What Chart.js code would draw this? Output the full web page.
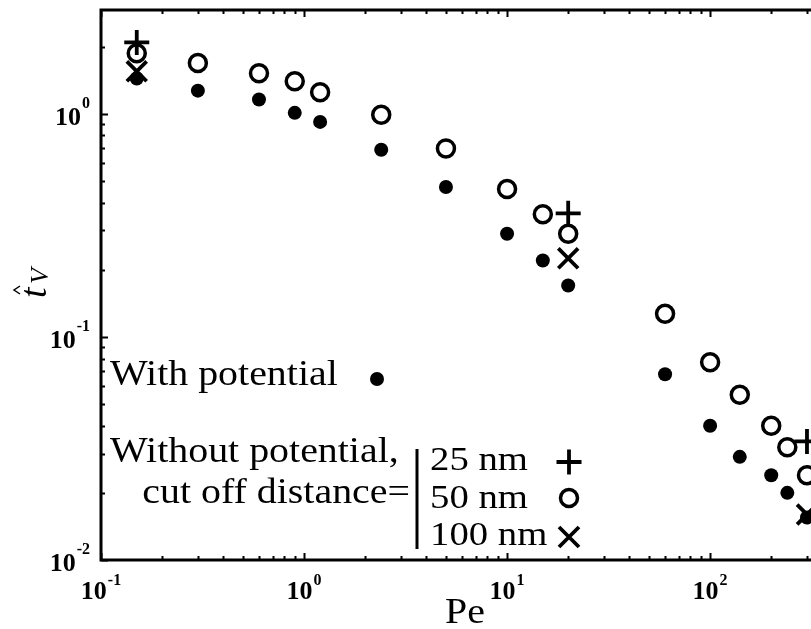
<!DOCTYPE html>
<html>
<head>
<meta charset="utf-8">
<script src="https://cdn.jsdelivr.net/npm/chart.js@4/dist/chart.umd.min.js"></script>
<style>
  html, body { margin: 0; padding: 0; background: #fff; overflow: hidden; }
  #wrap { width: 811px; height: 629px; }
</style>
</head>
<body>
<div id="wrap"><canvas id="chart"></canvas></div>
<script>
// Pe values shared by the two full series
const pe = [0.15, 0.3, 0.6, 0.9, 1.2, 2.4, 5, 10, 15, 20, 60, 100, 140, 200, 240, 300];
const withPotential = [1.44, 1.27, 1.16, 1.01, 0.92, 0.69, 0.47, 0.29, 0.22, 0.17, 0.068, 0.040, 0.029, 0.024, 0.020, 0.0155];
const cut50 = [1.87, 1.69, 1.52, 1.40, 1.25, 0.99, 0.70, 0.46, 0.355, 0.29, 0.127, 0.077, 0.055, 0.040, 0.032, 0.024];
// only three Pe values for the other cut off distances
const peShort = [0.15, 20, 300];
const cut25 = [2.09, 0.358, 0.034];
const cut100 = [1.55, 0.225, 0.016];

const xTickExps = [-1, 0, 1, 2];
const yTickExps = [-2, -1, 0];
const xTitle = 'Pe';
const withLabel = 'With potential';
const withoutLabel = ['Without potential,', 'cut off distance='];
const cutLabels = ['25 nm', '50 nm', '100 nm'];

const SERIF = '"Liberation Serif", "DejaVu Serif", serif';
const STRETCH = 1.14;

function pts(xs, ys) {
  return xs.map((x, i) => ({ x: x, y: ys[i] }));
}

function txt(ctx, s, x, y, size, align, style) {
  ctx.save();
  ctx.font = (style || '') + ' ' + size + 'px ' + SERIF;
  ctx.translate(x, y);
  ctx.scale(STRETCH, 1);
  ctx.textAlign = align || 'left';
  ctx.textBaseline = 'alphabetic';
  ctx.fillStyle = '#000';
  ctx.fillText(s, 0, 0);
  ctx.restore();
}

// 10 with a superscript exponent; anchor = 'center' or 'right'
function pow10(ctx, exp, x, y, anchor, raise) {
  ctx.save();
  ctx.fillStyle = '#000';
  ctx.textBaseline = 'alphabetic';
  ctx.textAlign = 'left';
  ctx.font = 'bold 26px ' + SERIF;
  const wb = ctx.measureText('10').width;
  ctx.font = 'bold 16px ' + SERIF;
  const es = String(exp);
  const we = ctx.measureText(es).width;
  const total = wb + 1 + we;
  const x0 = anchor === 'right' ? x - total : x - total / 2;
  ctx.font = 'bold 26px ' + SERIF;
  ctx.fillText('10', x0, y);
  ctx.font = 'bold 16px ' + SERIF;
  ctx.fillText(es, x0 + wb + 1, y - raise);
  ctx.restore();
}

function marker(ctx, style, x, y) {
  ctx.save();
  ctx.strokeStyle = '#000';
  ctx.fillStyle = '#000';
  ctx.lineWidth = 3.8;
  ctx.beginPath();
  if (style === 'dot') {
    ctx.arc(x, y, 7, 0, Math.PI * 2);
    ctx.fill();
  } else if (style === 'circle') {
    ctx.lineWidth = 3.5;
    ctx.arc(x, y, 8.5, 0, Math.PI * 2);
    ctx.stroke();
  } else if (style === 'cross') {
    ctx.moveTo(x - 12.5, y); ctx.lineTo(x + 12.5, y);
    ctx.moveTo(x, y - 12.5); ctx.lineTo(x, y + 12.5);
    ctx.stroke();
  } else {
    const d = 10;
    ctx.moveTo(x - d, y - d); ctx.lineTo(x + d, y + d);
    ctx.moveTo(x + d, y - d); ctx.lineTo(x - d, y + d);
    ctx.stroke();
  }
  ctx.restore();
}

const frame = {
  id: 'frame',
  afterDraw(chart) {
    const ctx = chart.ctx;
    const a = chart.chartArea;
    const xs = chart.scales.x, ys = chart.scales.y;

    ctx.save();
    ctx.strokeStyle = '#000';
    // ticks, pointing inward
    ctx.lineWidth = 2;
    ctx.beginPath();
    for (let d = -1; d <= 2; d++) {
      for (let m = 1; m <= 9; m++) {
        const v = m * Math.pow(10, d);
        if (v < xs.min || v > xs.max) continue;
        const px = Math.round(xs.getPixelForValue(v)) + 0.5;
        const len = m === 1 ? 7 : 4;
        ctx.moveTo(px, a.bottom); ctx.lineTo(px, a.bottom - len);
        ctx.moveTo(px, a.top); ctx.lineTo(px, a.top + len);
      }
    }
    for (let d = -2; d <= 0; d++) {
      for (let m = 1; m <= 9; m++) {
        const v = m * Math.pow(10, d);
        if (v < ys.min || v > ys.max) continue;
        const py = Math.round(ys.getPixelForValue(v)) + 0.5;
        const len = m === 1 ? 7 : 4;
        ctx.moveTo(a.left, py); ctx.lineTo(a.left + len, py);
      }
    }
    ctx.stroke();

    // spines (right one falls outside the picture)
    ctx.lineWidth = 3;
    ctx.beginPath();
    ctx.moveTo(a.right + 5, a.top);
    ctx.lineTo(a.left, a.top);
    ctx.lineTo(a.left, a.bottom);
    ctx.lineTo(a.right + 5, a.bottom);
    ctx.stroke();
    ctx.restore();

    // tick labels
    xTickExps.forEach(e => pow10(ctx, e, xs.getPixelForValue(Math.pow(10, e)), a.bottom + 39, 'center', 14));
    yTickExps.forEach(e => pow10(ctx, e, a.left - 11, ys.getPixelForValue(Math.pow(10, e)) + 11, 'right', 17));

    // axis titles
    txt(ctx, xTitle, 465, 623, 35, 'center');
    ctx.save();
    ctx.translate(46, 298);
    ctx.rotate(-Math.PI / 2);
    ctx.fillStyle = '#000';
    ctx.font = 'italic 38px ' + SERIF;
    ctx.fillText('t', 0, 0);
    ctx.font = 'italic 26px ' + SERIF;
    ctx.fillText('V', 14, 2);
    ctx.strokeStyle = '#000';
    ctx.lineWidth = 1.5;
    ctx.beginPath();
    ctx.moveTo(4, -26); ctx.lineTo(8, -32); ctx.lineTo(12, -26);
    ctx.stroke();
    ctx.restore();

    // in-plot key
    txt(ctx, withLabel, 110, 385, 35, 'left');
    marker(ctx, 'dot', 377, 379);
    txt(ctx, withoutLabel[0], 110, 462, 35, 'left');
    txt(ctx, withoutLabel[1], 410, 503, 35, 'right');
    ctx.save();
    ctx.strokeStyle = '#000';
    ctx.lineWidth = 3;
    ctx.beginPath();
    ctx.moveTo(417, 449); ctx.lineTo(417, 549);
    ctx.stroke();
    ctx.restore();
    const rows = [470, 508, 545];
    const rowMarks = ['cross', 'circle', 'crossRot'];
    const markY = [462, 498, 537];
    cutLabels.forEach((s, i) => {
      txt(ctx, s, 430, rows[i], 34, 'left');
      marker(ctx, rowMarks[i], 569, markY[i]);
    });
  }
};

new Chart(document.getElementById('chart'), {
  type: 'scatter',
  data: {
    datasets: [
      {
        label: withLabel,
        data: pts(pe, withPotential),
        pointStyle: 'circle',
        pointRadius: 7,
        pointBackgroundColor: '#000',
        pointBorderWidth: 0,
      },
      {
        label: cutLabels[1],
        data: pts(pe, cut50),
        pointStyle: 'circle',
        pointRadius: 8.5,
        pointBackgroundColor: 'rgba(0,0,0,0)',
        pointBorderColor: '#000',
        pointBorderWidth: 3.5,
      },
      {
        label: cutLabels[0],
        data: pts(peShort, cut25),
        pointStyle: 'cross',
        pointRadius: 12.5,
        pointBorderColor: '#000',
        pointBorderWidth: 3.8,
      },
      {
        label: cutLabels[2],
        data: pts(peShort, cut100),
        pointStyle: 'crossRot',
        pointRadius: 14,
        pointBorderColor: '#000',
        pointBorderWidth: 3.8,
      },
    ]
  },
  options: {
    responsive: true,
    maintainAspectRatio: false,
    animation: false,
    layout: { autoPadding: false, padding: { left: 101, top: 10, right: 0, bottom: 69 } },
    plugins: {
      legend: { display: false },
      tooltip: { enabled: false },
    },
    scales: {
      x: { type: 'logarithmic', min: 0.1, max: 314, display: false },
      y: { type: 'logarithmic', min: 0.01, max: 2.92, display: false },
    }
  },
  plugins: [frame]
});
</script>
</body>
</html>
